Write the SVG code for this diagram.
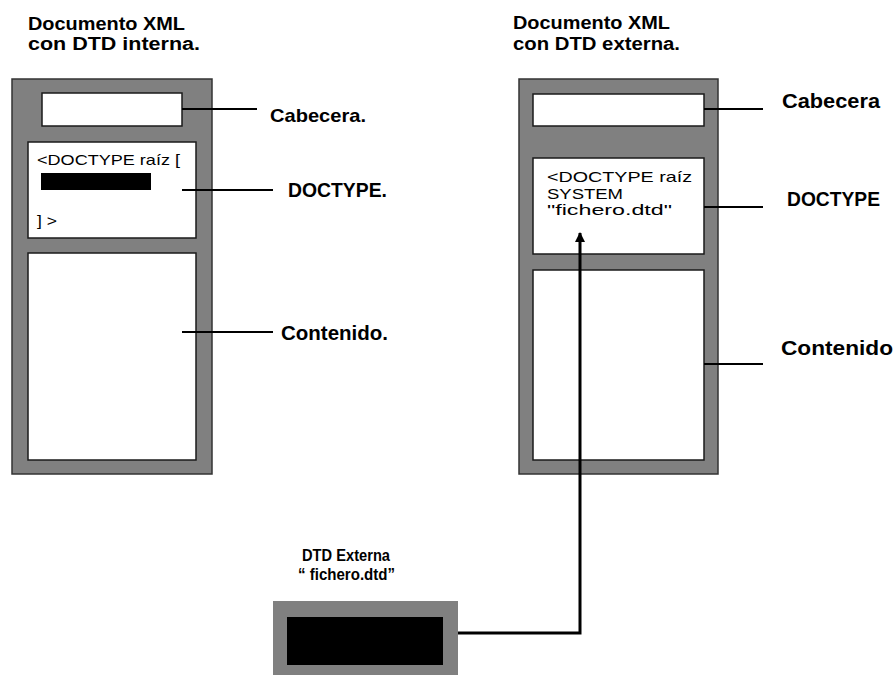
<svg xmlns="http://www.w3.org/2000/svg" width="895" height="675" viewBox="0 0 895 675">
<defs>
<style>
.outer{fill:#808080;stroke:#333333;stroke-width:1.5}
.inner{fill:#ffffff;stroke:#1a1a1a;stroke-width:1.5}
.lbl{font-family:"Liberation Sans",Arial,sans-serif;font-weight:bold;fill:#000}
.txt{font-family:"Liberation Sans",Arial,sans-serif;font-size:15px;fill:#000}
.conn{stroke:#000;stroke-width:2;fill:none}
</style>
<marker id="arr" viewBox="0 0 10 10" refX="9" refY="5" markerWidth="10" markerHeight="10" markerUnits="userSpaceOnUse" orient="auto">
<path d="M0,0 L10,5 L0,10 z" fill="#000"/>
</marker>
</defs>
<rect width="895" height="675" fill="#ffffff"/>

<g id="doc-interna">
<text class="lbl" font-size="18" x="28" y="30" textLength="157" lengthAdjust="spacingAndGlyphs">Documento XML</text>
<text class="lbl" font-size="18" x="28" y="50" textLength="172" lengthAdjust="spacingAndGlyphs">con DTD interna.</text>
<rect class="outer" x="12" y="79" width="200" height="395"/>
<rect class="inner" x="42" y="93" width="140" height="33"/>
<rect class="inner" x="28" y="142" width="168" height="96"/>
<text class="txt" x="37" y="165" textLength="143" lengthAdjust="spacingAndGlyphs">&lt;DOCTYPE raíz [</text>
<rect x="41" y="173" width="110" height="17" fill="#000"/>
<text class="txt" x="37" y="226" textLength="20" lengthAdjust="spacingAndGlyphs">] &gt;</text>
<rect class="inner" x="28" y="253" width="168" height="207"/>
</g>

<g id="doc-externa">
<text class="lbl" font-size="18" x="513" y="29" textLength="157" lengthAdjust="spacingAndGlyphs">Documento XML</text>
<text class="lbl" font-size="18" x="513" y="50" textLength="167" lengthAdjust="spacingAndGlyphs">con DTD externa.</text>
<rect class="outer" x="519" y="79" width="199" height="395"/>
<rect class="inner" x="533" y="94" width="171" height="32"/>
<rect class="inner" x="533" y="158" width="171" height="96"/>
<text class="txt" x="547" y="182" textLength="145" lengthAdjust="spacingAndGlyphs">&lt;DOCTYPE raíz</text>
<text class="txt" x="547" y="199" textLength="76" lengthAdjust="spacingAndGlyphs">SYSTEM</text>
<text class="txt" x="547" y="215" textLength="125" lengthAdjust="spacingAndGlyphs">"fichero.dtd"</text>
<rect class="inner" x="533" y="270" width="171" height="190"/>
</g>

<g id="dtd-externa">
<text class="lbl" font-size="17" x="302" y="561" textLength="88" lengthAdjust="spacingAndGlyphs">DTD Externa</text>
<text class="lbl" font-size="17" x="298" y="580" textLength="97" lengthAdjust="spacingAndGlyphs">“ fichero.dtd”</text>
<rect x="273" y="601" width="185" height="80" fill="#808080"/>
<rect x="287" y="617" width="156" height="48" fill="#000"/>
</g>

<g id="label-cabecera-1"><text class="lbl" font-size="19" x="270" y="122" textLength="96" lengthAdjust="spacingAndGlyphs">Cabecera.</text></g>
<g id="label-doctype-1"><text class="lbl" font-size="20" x="288" y="197" textLength="99" lengthAdjust="spacingAndGlyphs">DOCTYPE.</text></g>
<g id="label-contenido-1"><text class="lbl" font-size="20" x="281" y="340" textLength="107" lengthAdjust="spacingAndGlyphs">Contenido.</text></g>
<g id="label-cabecera-2"><text class="lbl" font-size="21" x="782" y="108" textLength="98" lengthAdjust="spacingAndGlyphs">Cabecera</text></g>
<g id="label-doctype-2"><text class="lbl" font-size="20" x="787" y="206" textLength="93" lengthAdjust="spacingAndGlyphs">DOCTYPE</text></g>
<g id="label-contenido-2"><text class="lbl" font-size="21" x="781" y="355" textLength="112" lengthAdjust="spacingAndGlyphs">Contenido</text></g>

<g id="connectors">
<line class="conn" x1="182" y1="109" x2="257" y2="109"/>
<line class="conn" x1="182" y1="190" x2="273" y2="190"/>
<line class="conn" x1="182" y1="332" x2="273" y2="332"/>
<line class="conn" x1="704" y1="109" x2="763" y2="109"/>
<line class="conn" x1="704" y1="207" x2="763" y2="207"/>
<line class="conn" x1="704" y1="364" x2="763" y2="364"/>
<path d="M458,633 L580,633 L580,233" stroke="#000" stroke-width="3" fill="none" marker-end="url(#arr)"/>
</g>
</svg>
